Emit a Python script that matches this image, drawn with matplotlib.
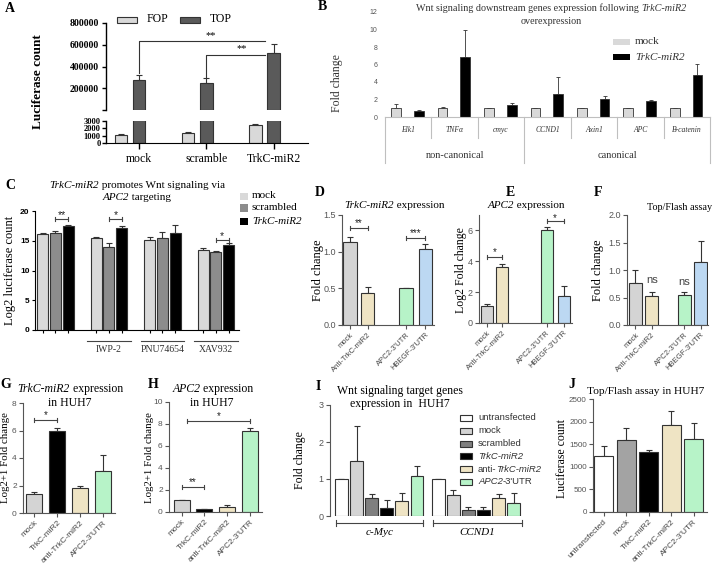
import numpy as np
import matplotlib
matplotlib.use("Agg")
import matplotlib.pyplot as plt
from matplotlib.patches import Rectangle
from matplotlib.offsetbox import TextArea, HPacker, AnnotationBbox

W, H = 713, 568
SERIF = "Liberation Serif"
SANS = "Liberation Sans"
plt.rcParams["font.family"] = SANS

# ---------------- data ----------------
# A  FOP / TOP luciferase
a_groups = ["mock", "scramble", "TrkC-miR2"]
a_fop = [1100, 1300, 2400]
a_fop_err = [60, 150, 250]
a_top = [280000, 245000, 520000]
a_top_err = [45000, 50000, 90000]

# B  Wnt downstream genes
b_genes = ["Elk1", "TNFα", "cmyc", "CCND1", "Axin1", "APC", "B-catenin"]
b_mock = [1.05, 1.05, 1.0, 1.0, 1.0, 1.0, 1.0]
b_mock_err = [0.4, 0.15, 0.05, 0.03, 0.03, 0.03, 0.03]
b_trkc = [0.7, 6.9, 1.4, 2.6, 2.1, 1.8, 4.8]
b_trkc_err = [0.05, 3.1, 0.2, 2.0, 0.3, 0.15, 1.3]

# C  log2 luciferase with inhibitors
c_groups = ["", "IWP-2", "PNU74654", "XAV932"]
c_mock = [16.1, 15.4, 15.2, 13.4]
c_mock_err = [0.15, 0.3, 0.4, 0.4]
c_scr = [16.3, 14.0, 15.5, 13.1]
c_scr_err = [0.35, 0.7, 0.9, 0.1]
c_trkc = [17.5, 17.2, 16.3, 14.3]
c_trkc_err = [0.1, 0.3, 1.3, 0.35]

# D, E, F
def_labels = ["mock", "Anti-TrkC-miR2", "APC2-3'UTR", "HBEGF-3'UTR"]
d_vals = [1.13, 0.43, 0.50, 1.04]
d_err = [0.07, 0.09, 0.01, 0.07]
e_vals = [1.12, 3.6, 6.05, 1.75]
e_err = [0.1, 0.2, 0.2, 0.65]
f_vals = [0.77, 0.53, 0.55, 1.14]
f_err = [0.23, 0.07, 0.05, 0.38]

# G, H
gh_labels = ["mock", "TrkC-miR2", "anti-TrkC-miR2", "APC2-3'UTR"]
g_vals = [1.35, 5.95, 1.85, 3.05]
g_err = [0.2, 0.2, 0.15, 1.2]
h_vals = [1.1, 0.25, 0.45, 7.35]
h_err = [0.03, 0.02, 0.2, 0.3]

# I  target genes in HUH7
i_series = ["untransfected", "mock", "scrambled", "TrkC-miR2", "anti-TrkC-miR2", "APC2-3'UTR"]
i_genes = ["c-Myc", "CCND1"]
i_cmyc = [1.0, 1.5, 0.48, 0.22, 0.4, 1.08]
i_cmyc_err = [0.0, 0.92, 0.12, 0.21, 0.23, 0.27]
i_ccnd1 = [1.0, 0.56, 0.17, 0.17, 0.5, 0.35]
i_ccnd1_err = [0.0, 0.13, 0.08, 0.08, 0.1, 0.27]

# J  Top/Flash in HUH7
j_labels = ["untransfected", "mock", "TrkC-miR2", "anti-TrkC-miR2", "APC2-3'UTR"]
j_vals = [1250, 1600, 1320, 1920, 1620]
j_err = [200, 265, 60, 320, 360]

# ---------------- styles ----------------
EDGE = "#333333"
GRAY = "#d4d4d4"
BEIGE = "#efe4c4"
GREEN = "#b7f3c8"
BLUE = "#bcd8f2"

fig = plt.figure(figsize=(W / 100, H / 100), dpi=100)


def px_axes(l, t, r, b):
    return fig.add_axes([l / W, 1 - b / H, (r - l) / W, (b - t) / H])


def ftext(x, y, s, **kw):
    kw.setdefault("family", SERIF)
    kw.setdefault("ha", "center")
    kw.setdefault("va", "center")
    fig.text(x / W, 1 - y / H, s, **kw)


def rich(x, y, parts, size, family=SERIF, ha=0.5, color="black"):
    boxes = [TextArea(t, textprops=dict(family=family, size=size, style=st, color=color))
             for t, st in parts]
    pack = HPacker(children=boxes, pad=0, sep=0, align="baseline")
    ab = AnnotationBbox(pack, (x, H - y), xycoords="figure pixels",
                        box_alignment=(ha, 0.5), frameon=False, pad=0)
    fig.add_artist(ab)


def bars(ax, pos, vals, errs, colors, width, capsize=2.0, lw=0.8):
    ax.bar(pos, vals, width, color=colors, edgecolor=EDGE, linewidth=lw, zorder=2)
    ax.errorbar(pos, vals, yerr=[np.zeros(len(vals)), errs], fmt="none", ecolor=EDGE,
                elinewidth=lw, capsize=capsize, capthick=lw, zorder=1)


def gp_style(ax, yticks, ylabels, size=6.5):
    for s in ["top", "right"]:
        ax.spines[s].set_visible(False)
    for s in ["left", "bottom"]:
        ax.spines[s].set_color("#555555")
        ax.spines[s].set_linewidth(0.8)
    ax.set_yticks(yticks)
    ax.set_yticklabels(ylabels)
    ax.tick_params(colors="#555555", labelsize=size, length=3, width=0.8, pad=1.5)


def xlabels(ax, pos, labels, size=5.5):
    ax.set_xticks(pos)
    ax.set_xticklabels(labels, rotation=45, ha="right", rotation_mode="anchor",
                       fontsize=size, color="#444444")


def bracket(ax, x1, x2, y, text, tick, size=7, dy=0.0):
    ax.plot([x1, x2], [y, y], color="#444444", lw=0.8, clip_on=False)
    ax.plot([x1, x1], [y - tick, y + tick], color="#444444", lw=0.8, clip_on=False)
    ax.plot([x2, x2], [y - tick, y + tick], color="#444444", lw=0.8, clip_on=False)
    ax.text((x1 + x2) / 2, y + dy, text, ha="center", va="bottom", fontsize=size,
            color="#222222", clip_on=False)


# ---------------- panel A ----------------
xa = np.arange(len(a_groups))
axU = px_axes(106, 23, 308, 110)
axL = px_axes(106, 121, 308, 143)
bars(axU, xa, a_top, a_top_err, "#5a5a5a", 0.19, capsize=2.5)
bars(axL, xa - 0.27, a_fop, a_fop_err, "#d9d9d9", 0.18, capsize=2)
bars(axL, xa, a_top, a_top_err, "#5a5a5a", 0.19, capsize=2.5)
for ax in (axU, axL):
    ax.set_xlim(-0.49, 2.51)
    for s in ["top", "right"]:
        ax.spines[s].set_visible(False)
    ax.spines["left"].set_linewidth(1.0)
    ax.tick_params(labelsize=7, length=3, width=1.0, pad=2)
axU.set_ylim(0, 800000)
axU.spines["bottom"].set_visible(False)
axU.set_xticks([])
axU.set_yticks([0, 200000, 400000, 600000, 800000])
axU.set_yticklabels(["", "200000", "400000", "600000", "800000"], family=SERIF, weight="bold")
axL.set_ylim(0, 3000)
axL.set_yticks([0, 1000, 2000, 3000])
axL.set_yticklabels(["0", "1000", "2000", "3000"], family=SERIF, weight="bold", fontsize=6)
axL.yaxis.set_tick_params(pad=1)
axL.set_xticks(xa)
axL.set_xticklabels(a_groups, family=SERIF, fontsize=8.5)
axL.tick_params(axis="x", length=4, pad=3)
# significance lines
axU.plot([0, 0, 1.87], [340000, 632000, 632000], color="#333333", lw=0.8, clip_on=False)
axU.plot([1, 1, 1.87], [305000, 510000, 510000], color="#333333", lw=0.8, clip_on=False)
axU.text(1.06, 645000, "**", ha="center", va="bottom", fontsize=7.5, family=SERIF)
axU.text(1.52, 522000, "**", ha="center", va="bottom", fontsize=7.5, family=SERIF)
# legend
fig.add_artist(Rectangle((117 / W, 1 - 23 / H), 20 / W, 6 / H, transform=fig.transFigure,
                         facecolor="#d9d9d9", edgecolor=EDGE, lw=0.8))
fig.add_artist(Rectangle((180 / W, 1 - 23 / H), 20 / W, 6 / H, transform=fig.transFigure,
                         facecolor="#5a5a5a", edgecolor=EDGE, lw=0.8))
ftext(147, 19, "FOP", fontsize=8.5, ha="left")
ftext(210, 19, "TOP", fontsize=8.5, ha="left")
ftext(38, 82, "Luciferase count", fontsize=9.5, weight="bold", rotation=90)
ftext(10, 8, "A", fontsize=10, weight="bold")

# ---------------- panel B ----------------
axB = px_axes(385, 12, 710, 117)
xb = np.arange(len(b_genes))
bars(axB, xb + 0.24, b_mock, b_mock_err, "#d9d9d9", 0.21, capsize=1.6, lw=0.6)
bars(axB, xb + 0.73, b_trkc, b_trkc_err, "black", 0.21, capsize=1.6, lw=0.6)
axB.set_xlim(0, 7)
axB.set_ylim(0, 12)
for s in ["top", "right", "left"]:
    axB.spines[s].set_visible(False)
axB.spines["bottom"].set_color("#bfbfbf")
axB.set_xticks([])
axB.set_yticks(range(0, 13, 2))
axB.tick_params(axis="y", length=0, labelsize=5, colors="#555555", pad=5.5)
tr = axB.get_xaxis_transform()
for k in range(8):
    low = -0.438 if k in (0, 3, 7) else -0.2
    axB.plot([k, k], [0, low], color="#bfbfbf", lw=0.8, transform=tr, clip_on=False)
for k, g in enumerate(b_genes):
    axB.text(k + 0.5, -0.124, g, transform=tr, ha="center", va="center",
             family=SERIF, style="italic", fontsize=5.5, color="#333333")
axB.text(1.5, -0.362, "non-canonical", transform=tr, ha="center", va="center",
         family=SERIF, fontsize=7.5, color="#333333")
axB.text(5.0, -0.362, "canonical", transform=tr, ha="center", va="center",
         family=SERIF, fontsize=7.5, color="#333333")
rich(551, 8, [("Wnt signaling downstream genes expression following ", "normal"),
              ("TrkC-miR2", "italic")], 7.3, color="#333333")
ftext(551, 21, "overexpression", fontsize=7.3, color="#333333")
fig.add_artist(Rectangle((613 / W, 1 - 45 / H), 17 / W, 6 / H, transform=fig.transFigure,
                         facecolor="#d9d9d9", edgecolor="none"))
fig.add_artist(Rectangle((613 / W, 1 - 60 / H), 17 / W, 6 / H, transform=fig.transFigure,
                         facecolor="black", edgecolor="none"))
ftext(635, 42, "mock", fontsize=8, ha="left", color="#333333")
ftext(635, 57, "TrkC-miR2", fontsize=8, ha="left", style="italic", color="#333333")
ftext(337, 83, "Fold change", fontsize=8.5, rotation=90, color="#333333")
ftext(322, 7, "B", fontsize=10, weight="bold")

# ---------------- panel C ----------------
axC = px_axes(35, 211, 239, 330)
gc = np.arange(len(c_groups)) * 4.31
cw = 0.88
bars(axC, gc - 1.02, c_mock, c_mock_err, "#d9d9d9", cw, capsize=2)
bars(axC, gc, c_scr, c_scr_err, "#8c8c8c", cw, capsize=2)
bars(axC, gc + 1.05, c_trkc, c_trkc_err, "black", cw, capsize=2)
axC.set_xlim(-1.65, 14.8)
axC.set_ylim(0, 20)
for s in ["top", "right"]:
    axC.spines[s].set_visible(False)
axC.set_xticks(np.concatenate([gc - 1.02, gc, gc + 1.05]))
axC.set_xticklabels([])
axC.set_yticks([0, 5, 10, 15, 20])
axC.tick_params(labelsize=6, length=2.5, width=0.8, pad=1.5)
for t in axC.get_yticklabels():
    t.set_fontweight("bold")
bracket(axC, gc[0], gc[0] + 1.05, 18.6, "**", 0.35, size=7.5, dy=-0.2)
bracket(axC, gc[1], gc[1] + 1.05, 18.6, "*", 0.35, size=7.5, dy=-0.2)
bracket(axC, gc[3], gc[3] + 1.05, 15.1, "*", 0.35, size=7.5, dy=-0.2)
trc = axC.get_xaxis_transform()
for k in range(1, 4):
    axC.plot([gc[k] - 1.75, gc[k] + 1.75], [-0.092, -0.092], color="#444444", lw=0.8,
             transform=trc, clip_on=False)
    axC.text(gc[k], -0.168, c_groups[k], transform=trc, ha="center", va="center",
             family=SERIF, fontsize=7, color="#333333")
ftext(10, 270, "Log2 luciferase count", fontsize=9, rotation=90)
rich(137, 185, [("TrkC-miR2", "italic"), (" promotes Wnt signaling via", "normal")], 8)
rich(137, 197, [("APC2", "italic"), (" targeting", "normal")], 8)
for y0, col, lab, st in [(196, "#d9d9d9", "mock", "normal"), (208, "#8c8c8c", "scrambled", "normal"),
                         (221, "black", "TrkC-miR2", "italic")]:
    fig.add_artist(Rectangle((240 / W, 1 - (y0 + 3.5) / H), 8 / W, 7 / H,
                             transform=fig.transFigure, facecolor=col, edgecolor="none"))
    ftext(252, y0, lab, fontsize=8, ha="left", style=st)
ftext(10, 185, "C", fontsize=10, weight="bold")

# ---------------- panel D ----------------
axD = px_axes(342, 215, 434, 325)
pd_ = [0, 1, 3.2, 4.3]
bars(axD, pd_, d_vals, d_err, [GRAY, BEIGE, GREEN, BLUE], 0.75)
axD.set_xlim(-0.46, 4.8)
axD.set_ylim(0, 1.5)
gp_style(axD, [0, 0.5, 1.0, 1.5], ["0.0", "0.5", "1.0", "1.5"])
xlabels(axD, pd_, def_labels)
bracket(axD, 0, 1, 1.32, "**", 0.025)
bracket(axD, 3.2, 4.3, 1.19, "***", 0.025)
rich(394, 205, [("TrkC-miR2", "italic"), (" expression", "normal")], 8)
ftext(318, 270, "Fold change", fontsize=9, rotation=90)
ftext(320, 192, "D", fontsize=10, weight="bold")

# ---------------- panel E ----------------
axE = px_axes(479, 215, 572, 323)
pe = [0, 1, 3.9, 5.0]
bars(axE, pe, e_vals, e_err, [GRAY, BEIGE, GREEN, BLUE], 0.78)
axE.set_xlim(-0.5, 5.55)
axE.set_ylim(0, 7)
gp_style(axE, [0, 2, 4, 6], ["0", "2", "4", "6"])
xlabels(axE, pe, def_labels)
bracket(axE, 0, 1, 4.26, "*", 0.12)
bracket(axE, 3.9, 5.0, 6.6, "*", 0.12, dy=-0.15)
rich(526, 206, [("APC2", "italic"), (" expression", "normal")], 8)
ftext(461, 270, "Log2 Fold change", fontsize=8.5, rotation=90)
ftext(510, 192, "E", fontsize=10, weight="bold")

# ---------------- panel F ----------------
axF = px_axes(627, 215, 708, 325)
pf = [0, 1, 3, 4]
bars(axF, pf, f_vals, f_err, [GRAY, BEIGE, GREEN, BLUE], 0.78)
axF.set_xlim(-0.52, 4.45)
axF.set_ylim(0, 2)
gp_style(axF, [0, 0.5, 1.0, 1.5, 2.0], ["0.0", "0.5", "1.0", "1.5", "2.0"])
xlabels(axF, pf, def_labels)
axF.text(1, 0.82, "ns", ha="center", va="center", fontsize=8, color="#444444")
axF.text(3, 0.78, "ns", ha="center", va="center", fontsize=8, color="#444444")
ftext(680, 208, "Top/Flash assay", fontsize=7.3)
ftext(598, 270, "Fold change", fontsize=9, rotation=90)
ftext(598, 192, "F", fontsize=10, weight="bold")

# ---------------- panel G ----------------
axG = px_axes(23, 403, 115, 513)
pg = np.arange(len(gh_labels))
bars(axG, pg, g_vals, g_err, [GRAY, "black", BEIGE, GREEN], 0.7)
axG.set_xlim(-0.5, 3.52)
axG.set_ylim(0, 8)
gp_style(axG, [0, 2, 4, 6, 8], ["0", "2", "4", "6", "8"], size=6)
xlabels(axG, pg, gh_labels, size=6)
bracket(axG, 0, 1, 6.76, "*", 0.15)
rich(70, 389, [("TrkC-miR2", "italic"), (" expression", "normal")], 8.5)
ftext(70, 403, "in HUH7", fontsize=8.5)
ftext(6, 458, "Log2+1 Fold change", fontsize=7.8, rotation=90)
ftext(6, 384, "G", fontsize=10, weight="bold")

# ---------------- panel H ----------------
axH = px_axes(169, 402, 262, 512)
bars(axH, pg, h_vals, h_err, [GRAY, "black", BEIGE, GREEN], 0.7)
axH.set_xlim(-0.55, 3.52)
axH.set_ylim(0, 10)
gp_style(axH, [0, 2, 4, 6, 8, 10], ["0", "2", "4", "6", "8", "10"], size=6)
xlabels(axH, pg, gh_labels, size=6)
bracket(axH, 0, 1, 2.27, "**", 0.2)
bracket(axH, 0.25, 3, 8.27, "*", 0.2)
rich(213, 389, [("APC2", "italic"), (" expression", "normal")], 8.5)
ftext(212, 403, "in HUH7", fontsize=8.5)
ftext(150, 458, "Log2+1 Fold change", fontsize=7.8, rotation=90)
ftext(153, 384, "H", fontsize=10, weight="bold")

# ---------------- panel I ----------------
axI = px_axes(330, 405, 525, 516)
icol = ["white", GRAY, "#7f7f7f", "black", BEIGE, GREEN]
pi0 = np.arange(len(i_series))
pi1 = pi0 + 6.4
bars(axI, pi0, i_cmyc, i_cmyc_err, icol, 0.86)
bars(axI, pi1, i_ccnd1, i_ccnd1_err, icol, 0.86)
axI.set_xlim(-0.76, 12.15)
axI.set_ylim(0, 3)
gp_style(axI, [0, 1, 2, 3], ["0", "1", "2", "3"])
axI.spines["bottom"].set_visible(False)
axI.set_xticks([])
tri = axI.get_xaxis_transform()
for (x0, x1), g in zip([(-0.37, 5.4), (6.06, 11.95)], i_genes):
    axI.plot([x0, x1], [-0.063, -0.063], color="#444444", lw=0.8, transform=tri, clip_on=False)
    for xe in (x0, x1):
        axI.plot([xe, xe], [-0.09, -0.036], color="#444444", lw=0.8, transform=tri, clip_on=False)
    axI.text((x0 + x1) / 2, -0.15, g, transform=tri, ha="center", va="center",
             family=SERIF, style="italic", fontsize=8)
ftext(400, 391, "Wnt signaling target genes", fontsize=8.5)
ftext(400, 404, "expression in  HUH7", fontsize=8.5)
ftext(300, 460, "Fold change", fontsize=8.5, rotation=90)
ftext(318, 386, "I", fontsize=10, weight="bold")
i_parts = [[("untransfected", "normal")], [("mock", "normal")], [("scrambled", "normal")],
           [("TrkC-miR2", "italic")], [("anti-", "normal"), ("TrkC-miR2", "italic")],
           [("APC2", "italic"), ("-3'UTR", "normal")]]
for k, (parts, col) in enumerate(zip(i_parts, icol)):
    yy = 418 + k * 12.8
    fig.add_artist(Rectangle((460 / W, 1 - (yy + 3) / H), 12 / W, 6 / H,
                             transform=fig.transFigure, facecolor=col, edgecolor=EDGE, lw=0.8))
    rich(478, yy, parts, 6.8, family=SANS, ha=0.0, color="#333333")

# ---------------- panel J ----------------
axJ = px_axes(593, 399, 707, 512)
pj = np.arange(len(j_labels))
bars(axJ, pj, j_vals, j_err, ["white", "#a3a3a3", "black", BEIGE, GREEN], 0.85)
axJ.set_xlim(-0.47, 4.59)
axJ.set_ylim(0, 2500)
gp_style(axJ, [0, 500, 1000, 1500, 2000, 2500], ["0", "500", "1000", "1500", "2000", "2500"],
         size=5.8)
xlabels(axJ, pj, j_labels, size=6)
ftext(646, 391, "Top/Flash assay in HUH7", fontsize=8.2)
ftext(562, 458, "Luciferase count", fontsize=8.5, rotation=90)
ftext(572, 384, "J", fontsize=10, weight="bold")

fig.savefig("out.png", dpi=100)
